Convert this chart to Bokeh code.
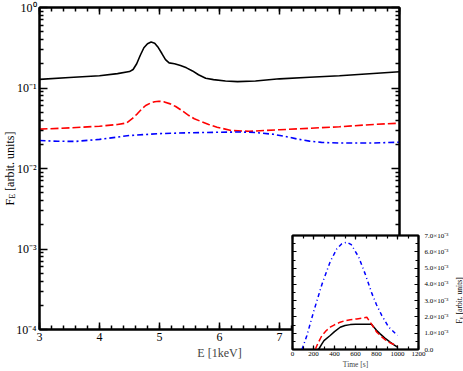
from math import pi
from bokeh.plotting import figure
from bokeh.models import (LinearAxis, LogAxis, SingleIntervalTicker, FixedTicker,
                          CustomJSTickFormatter, Label, Range1d)
from bokeh.layouts import column
from bokeh.embed import file_html
from bokeh.resources import INLINE

FONT = "Liberation Serif"

# ---------------- main panel data: F_E vs E ----------------
e_black = [3.0, 3.5, 4.0, 4.3, 4.5, 4.56, 4.62, 4.68, 4.74, 4.80, 4.86, 4.92, 4.98, 5.04,
           5.10, 5.16, 5.25, 5.35, 5.45, 5.55, 5.65, 5.77, 5.9, 6.1, 6.3, 6.6, 7.0, 7.5,
           8.0, 8.5, 9.0]
f_black = [0.128, 0.135, 0.142, 0.151, 0.160, 0.170, 0.200, 0.255, 0.316, 0.355, 0.372,
           0.360, 0.318, 0.268, 0.225, 0.205, 0.200, 0.190, 0.178, 0.163, 0.146, 0.132,
           0.127, 0.122, 0.120, 0.122, 0.130, 0.136, 0.142, 0.150, 0.159]

e_red = [3.0, 3.5, 4.0, 4.3, 4.45, 4.55, 4.63, 4.70, 4.77, 4.85, 4.92, 4.99, 5.08, 5.18,
         5.27, 5.38, 5.49, 5.58, 5.68, 5.82, 5.96, 6.2, 6.5, 7.0, 7.5, 8.0, 8.5, 9.0]
f_red = [0.0308, 0.0320, 0.0335, 0.0352, 0.0368, 0.0420, 0.0478, 0.0545, 0.0606, 0.0650,
         0.0675, 0.0686, 0.0672, 0.0635, 0.0589, 0.0520, 0.0455, 0.0415, 0.0387, 0.0353,
         0.0326, 0.0296, 0.0290, 0.0303, 0.0316, 0.0330, 0.0350, 0.0366]

e_blue = [3.0, 3.3, 3.6, 4.0, 4.5, 5.0, 5.5, 6.0, 6.35, 6.6, 6.9, 7.1, 7.3, 7.5, 7.7,
          8.0, 8.5, 9.0]
f_blue = [0.0223, 0.0218, 0.0217, 0.0230, 0.0257, 0.0271, 0.0278, 0.0282, 0.0284, 0.0280,
          0.0266, 0.0250, 0.0232, 0.0219, 0.0211, 0.0207, 0.0207, 0.0212]

main_major_y = [1e-4, 1e-3, 1e-2, 1e-1, 1.0]
main_minor_y = [m * d for d in [1e-4, 1e-3, 1e-2, 1e-1] for m in range(2, 10)]

# ---------------- inset data: F_E vs time ----------------
t_black = [248, 280, 300, 359, 400, 454, 500, 550, 600, 650, 700, 752, 800, 835, 880,
           930, 970, 1000]
lc_black = [0.0, 0.35e-3, 0.55e-3, 0.86e-3, 1.10e-3, 1.37e-3, 1.48e-3, 1.53e-3, 1.55e-3,
            1.55e-3, 1.55e-3, 1.55e-3, 1.18e-3, 0.96e-3, 0.70e-3, 0.45e-3, 0.27e-3, 0.14e-3]

t_red = [216, 240, 280, 320, 359, 400, 454, 500, 550, 613, 660, 708, 756, 803, 850, 899,
         950, 1000]
lc_red = [0.0, 0.35e-3, 0.86e-3, 1.15e-3, 1.37e-3, 1.52e-3, 1.68e-3, 1.77e-3, 1.83e-3,
          1.88e-3, 1.93e-3, 1.98e-3, 1.53e-3, 1.06e-3, 0.78e-3, 0.51e-3, 0.35e-3, 0.22e-3]

t_blue = [90, 137, 200, 280, 359, 423, 470, 518, 560, 629, 692, 756, 800, 850, 914, 1000]
lc_blue = [0.0, 0.86e-3, 2.3e-3, 4.0e-3, 5.4e-3, 6.2e-3, 6.5e-3, 6.6e-3, 6.45e-3, 5.7e-3,
           4.65e-3, 3.45e-3, 2.75e-3, 2.1e-3, 1.4e-3, 0.86e-3]

# ---------------- layout numbers (page pixels) ----------------
B_LEFT, B_RIGHT = 39, 45                 # shared left/right borders (column aligns them)
M_TOP, M_BOTTOM = 7, 34
H1 = M_TOP + 322 + M_BOTTOM              # main canvas height
I_TOP, I_BOTTOM = 52, 22
H2 = I_TOP + 114 + I_BOTTOM              # inset canvas height
INSET_CANVAS_TOP = 235 - I_TOP
INSET_CANVAS_LEFT = 292 - B_LEFT

blank_fmt = CustomJSTickFormatter(code="return '';")


def style_axis(ax, maj, mnr, lw=1.5, labels=True, size="12px", standoff=3):
    ax.major_tick_in = maj
    ax.major_tick_out = 0
    ax.minor_tick_in = mnr
    ax.minor_tick_out = 0
    ax.major_tick_line_width = lw
    ax.minor_tick_line_width = lw
    ax.major_tick_line_color = "black"
    ax.minor_tick_line_color = "black"
    ax.axis_line_color = "black"
    ax.axis_line_width = lw + 0.5
    ax.major_label_text_font = FONT
    ax.axis_label_text_font = FONT
    ax.axis_label_text_font_style = "normal"
    ax.major_label_text_color = "black"
    ax.axis_label_standoff = 0
    if labels:
        ax.major_label_text_font_size = size
        ax.major_label_standoff = standoff
    else:
        ax.formatter = blank_fmt
        ax.major_label_text_font_size = "1px"
        ax.major_label_standoff = 0


log_fmt = CustomJSTickFormatter(code="""
const e = Math.round(Math.log10(tick));
const m = {"-": "\u207b", "0": "\u2070", "1": "\u00b9", "2": "\u00b2", "3": "\u00b3", "4": "\u2074"};
return "10" + String(e).split("").map(c => m[c]).join("");
""")

p = figure(frame_width=360, frame_height=322, x_range=Range1d(3, 9), y_range=Range1d(1e-4, 1.0),
           y_axis_type="log", output_backend="svg", toolbar_location=None,
           min_border_left=B_LEFT, min_border_top=M_TOP, min_border_right=B_RIGHT,
           min_border_bottom=M_BOTTOM)
p.grid.visible = False
p.outline_line_color = "black"
p.outline_line_width = 2
p.background_fill_color = "white"
p.border_fill_color = "white"

p.xaxis.ticker = SingleIntervalTicker(interval=1, num_minor_ticks=5)
p.yaxis.ticker = FixedTicker(ticks=main_major_y, minor_ticks=main_minor_y)
p.yaxis.formatter = log_fmt
style_axis(p.xaxis[0], 7, 4, labels=True, size="12px", standoff=3)
style_axis(p.yaxis[0], 8, 4, labels=True, size="12px", standoff=3)
p.xaxis.axis_label = "E [1keV]"
p.xaxis.axis_label_text_font_size = "12px"
p.xaxis.axis_label_standoff = 2

top_ax = LinearAxis(ticker=SingleIntervalTicker(interval=1, num_minor_ticks=5))
style_axis(top_ax, 7, 4, labels=False)
p.add_layout(top_ax, "above")
right_ax = LogAxis(ticker=FixedTicker(ticks=main_major_y, minor_ticks=main_minor_y))
style_axis(right_ax, 8, 4, labels=False)
p.add_layout(right_ax, "right")

p.line(e_black, f_black, line_color="black", line_width=1.6)
p.line(e_red, f_red, line_color="red", line_width=1.6, line_dash="8 3")
p.line(e_blue, f_blue, line_color="blue", line_width=1.6, line_dash="6 3 2 3")


def add_ylabel(fig, side, x, y_bottom, size, sub_size, sub_shift):
    """Vertical 'F_E [arbit. units]' label, canvas pixels (y measured from top)."""
    wF = 0.556 * size
    wE = 0.611 * sub_size
    wS = 0.25 * size
    common = dict(angle=pi / 2, text_align="left", text_baseline="middle",
                  text_font=FONT, x_units="canvas", y_units="canvas", text_color="black")
    fig.add_layout(Label(x=x, y=y_bottom, text="F", text_font_size=f"{size}px", **common), side)
    fig.add_layout(Label(x=x + sub_shift, y=y_bottom - wF, text="E",
                         text_font_size=f"{sub_size}px", **common), side)
    fig.add_layout(Label(x=x, y=y_bottom - wF - wE - wS, text="[arbit. units]",
                         text_font_size=f"{size}px", **common), side)


add_ylabel(p, "right", 9, 205, 12, 8, 3)

# ---------------- inset ----------------
exp_fmt = CustomJSTickFormatter(code="""
if (Math.abs(tick) < 1e-12) { return "0.0"; }
return (tick * 1000).toFixed(1) + "\u00d710\u207b\u00b3";
""")

ins = figure(frame_width=126, frame_height=114, x_range=Range1d(0, 1200),
             y_range=Range1d(0, 0.00701),
             output_backend="svg", toolbar_location=None, y_axis_location="right",
             min_border_left=B_LEFT, min_border_top=I_TOP, min_border_right=B_RIGHT,
             min_border_bottom=I_BOTTOM,
             margin=(INSET_CANVAS_TOP - H1, 0, -10, INSET_CANVAS_LEFT))
ins.grid.visible = False
ins.outline_line_color = "black"
ins.outline_line_width = 2
ins.background_fill_color = "white"
ins.border_fill_alpha = 0

ins.xaxis.ticker = SingleIntervalTicker(interval=200, num_minor_ticks=2)
ins.yaxis.ticker = SingleIntervalTicker(interval=0.001, num_minor_ticks=2)
ins.yaxis.formatter = exp_fmt
style_axis(ins.xaxis[0], 4, 3, lw=1.2, labels=True, size="7px", standoff=2)
style_axis(ins.yaxis[0], 4, 3, lw=1.2, labels=True, size="7px", standoff=6)
ins.xaxis.axis_label = "Time [s]"
ins.xaxis.axis_label_text_font_size = "7.5px"
ins.xaxis.axis_label_standoff = 1

ins_top = LinearAxis(ticker=SingleIntervalTicker(interval=200, num_minor_ticks=2))
style_axis(ins_top, 4, 3, lw=1.2, labels=False)
ins.add_layout(ins_top, "above")
ins_left = LinearAxis(ticker=SingleIntervalTicker(interval=0.001, num_minor_ticks=2))
style_axis(ins_left, 4, 3, lw=1.2, labels=False)
ins.add_layout(ins_left, "left")

ins.line(t_black, lc_black, line_color="black", line_width=1.5)
ins.line(t_red, lc_red, line_color="red", line_width=1.5, line_dash="6 3")
ins.line(t_blue, lc_blue, line_color="blue", line_width=1.5, line_dash="4 3 1 3")

add_ylabel(ins, "above", 459 - INSET_CANVAS_LEFT, 323 - INSET_CANVAS_TOP, 7.5, 5, 2)

layout = column(p, ins)
open("out.html", "w").write(file_html(layout, INLINE))
